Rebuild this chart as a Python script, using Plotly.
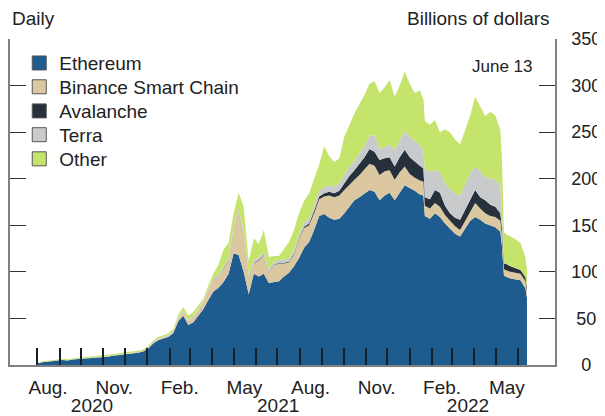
import plotly.graph_objects as go

dates = [
    "2020-08-01", "2020-08-08", "2020-08-15", "2020-08-22", "2020-08-29", "2020-09-05", "2020-09-12",
    "2020-09-19", "2020-09-26", "2020-10-03", "2020-10-10", "2020-10-17", "2020-10-24", "2020-10-31",
    "2020-11-07", "2020-11-14", "2020-11-21", "2020-11-28", "2020-12-05", "2020-12-12", "2020-12-19",
    "2020-12-26", "2021-01-02", "2021-01-09", "2021-01-16", "2021-01-23", "2021-01-30", "2021-02-06",
    "2021-02-13", "2021-02-20", "2021-02-27", "2021-03-06", "2021-03-13", "2021-03-20", "2021-03-27",
    "2021-04-03", "2021-04-10", "2021-04-17", "2021-04-24", "2021-05-01", "2021-05-08", "2021-05-15",
    "2021-05-22", "2021-05-29", "2021-06-05", "2021-06-12", "2021-06-19", "2021-06-26", "2021-07-03",
    "2021-07-10", "2021-07-17", "2021-07-24", "2021-07-31", "2021-08-07", "2021-08-14", "2021-08-21",
    "2021-08-28", "2021-09-04", "2021-09-11", "2021-09-18", "2021-09-25", "2021-10-02", "2021-10-09",
    "2021-10-16", "2021-10-23", "2021-10-30", "2021-11-06", "2021-11-13", "2021-11-20", "2021-11-27",
    "2021-12-04", "2021-12-11", "2021-12-18", "2021-12-25", "2022-01-01", "2022-01-08", "2022-01-15",
    "2022-01-20", "2022-01-22", "2022-01-29", "2022-02-05", "2022-02-12", "2022-02-19", "2022-02-26",
    "2022-03-05", "2022-03-12", "2022-03-19", "2022-03-26", "2022-04-02", "2022-04-09", "2022-04-16",
    "2022-04-23", "2022-04-30", "2022-05-07", "2022-05-09", "2022-05-12", "2022-05-14", "2022-05-21",
    "2022-05-28", "2022-06-04", "2022-06-11", "2022-06-13",
]

ethereum = [
    1.5, 3.0, 3.6, 4.5, 4.8, 5.4, 4.9, 5.8, 6.2, 6.5, 7.0, 7.4, 7.9, 8.4, 8.8, 9.8, 10.4, 11.4, 11.8,
    12.4, 13.2, 14.4, 17.5, 23, 26.5, 28.5, 30, 34, 47, 53, 43, 46, 53, 60, 70, 79, 83, 89, 98, 120,
    118, 100, 76, 98, 95, 98, 88, 89, 90, 95, 99, 106, 115, 126, 132, 145, 160, 162, 158, 156, 157,
    163, 170, 177, 180, 184, 188, 186, 177, 182, 185, 177, 185, 193, 190, 187, 183, 182, 160, 157,
    163, 159, 152, 147, 141, 138, 146, 155, 159, 156, 152, 150, 148, 143, 130, 96, 95, 93, 92, 91,
    82, 72,
]
binance = [
    0, 0, 0, 0, 0.1, 0.1, 0.1, 0.1, 0.2, 0.2, 0.2, 0.2, 0.3, 0.3, 0.3, 0.3, 0.3, 0.3, 0.3, 0.3, 0.4,
    0.4, 0.6, 0.8, 1.0, 1.2, 1.5, 2.0, 3.0, 4.0, 4.5, 5.0, 6.5, 7, 11, 12, 12, 15, 14, 27, 46, 40, 18,
    11, 17, 20, 11, 18, 19, 14, 11, 13, 20, 21, 18, 18, 18, 19, 24, 24, 25, 25, 24, 22, 24, 26, 28,
    28, 27, 26, 24, 22, 22, 20, 15, 14, 15, 15, 11, 11, 11, 11, 9, 8, 8, 7, 9, 10, 15, 12, 11, 10, 11,
    12, 11, 7, 7, 7, 7, 7, 8, 7,
]
avalanche = [
    0, 0, 0, 0, 0, 0, 0, 0, 0, 0, 0, 0, 0, 0, 0, 0, 0, 0, 0, 0, 0, 0, 0, 0, 0, 0, 0, 0, 0, 0, 0, 0, 0,
    0, 0.1, 0.2, 0.3, 0.3, 0.4, 0.5, 0.6, 0.6, 0.5, 0.6, 0.6, 0.6, 0.6, 0.6, 0.6, 0.7, 0.8, 1, 1, 1.5,
    2, 2.5, 3, 3.5, 4, 4.5, 5, 7, 9, 10, 12, 13, 16, 15, 16, 14, 14, 14, 16, 18, 18, 18, 16, 14, 9,
    10, 14, 15, 10, 8, 9, 11, 12, 13, 14, 12, 14, 12, 11, 8, 8, 6, 7, 6, 5, 4, 4, 4,
]
terra = [
    0.2, 0.2, 0.2, 0.2, 0.2, 0.2, 0.2, 0.2, 0.2, 0.2, 0.2, 0.2, 0.2, 0.2, 0.2, 0.3, 0.3, 0.3, 0.3,
    0.3, 0.3, 0.3, 0.5, 0.5, 0.6, 0.6, 0.7, 0.8, 1.0, 1.2, 1.2, 1.3, 1.4, 1.5, 1.6, 1.8, 2.0, 2.2,
    2.4, 2.8, 3, 3, 2.5, 2.8, 2.8, 3, 3, 3, 3, 3.2, 3.4, 3.6, 4, 4.5, 5, 5.5, 6, 6.5, 7, 7, 8, 9, 10,
    10, 11, 12, 14, 18, 12, 12, 14, 18, 18, 20, 22, 22, 22, 20, 30, 30, 21, 22, 24, 26, 26, 26, 28,
    28, 25, 27, 25, 28, 29, 30, 20, 1, 0.5, 0.3, 0.3, 0.2, 0.2, 0.2,
]
other = [
    0.8, 0.8, 0.8, 0.9, 0.9, 0.9, 0.9, 1.0, 1.0, 1.1, 1.1, 1.2, 1.2, 1.2, 1.3, 1.3, 1.3, 1.4, 1.5,
    1.5, 1.5, 1.5, 1.4, 1.7, 1.9, 1.7, 1.8, 1.7, 3.0, 3.8, 4.3, 4.7, 3.1, 2.5, 3.3, 5, 10.7, 17.5,
    16.2, 12.7, 17.4, 26.4, 14, 23.6, 14.6, 23.4, 13.4, 6.4, 4.4, 12.1, 17.8, 21.4, 23, 23, 27, 29,
    28, 44, 31, 26.5, 27, 41, 45, 51, 53, 55, 56, 58, 60, 64, 69, 57, 59, 64, 57, 51, 59, 54, 52, 50,
    54, 43, 58, 61, 58, 55, 57, 62, 75, 71, 65, 72, 69, 59, 56, 33, 31.5, 31.7, 30.7, 28.8, 20.8,
    18.8,
]

series_names = ["Ethereum", "Binance Smart Chain", "Avalanche", "Terra", "Other"]
series_values = [ethereum, binance, avalanche, terra, other]
series_colors = ["#1e5b8e", "#dcc8a0", "#27313c", "#c9cacc", "#c5e46c"]

month_ticks = [
    "2020-08-01", "2020-09-01", "2020-10-01", "2020-11-01", "2020-12-01", "2021-01-01",
    "2021-02-01", "2021-03-01", "2021-04-01", "2021-05-01", "2021-06-01", "2021-07-01",
    "2021-08-01", "2021-09-01", "2021-10-01", "2021-11-01", "2021-12-01", "2022-01-01",
    "2022-02-01", "2022-03-01", "2022-04-01", "2022-05-01", "2022-06-01",
]
month_label_pos = ["2020-08-16", "2020-11-16", "2021-02-15", "2021-05-16",
                   "2021-08-16", "2021-11-16", "2022-02-15", "2022-05-16"]
month_labels = ["Aug.", "Nov.", "Feb.", "May", "Aug.", "Nov.", "Feb.", "May"]
year_label_pos = ["2020-10-16", "2021-07-02", "2022-03-23"]
year_labels = ["2020", "2021", "2022"]
y_ticks = [0, 50, 100, 150, 200, 250, 300, 350]
y_tick_text = ["\u20070", "\u200850", "100", "150", "200", "250", "300", "350"]

x_range = ["2020-06-24", "2022-07-22"]
FONT = "Liberation Sans, Arial, sans-serif"
TXT = "#222222"
FS = 19

# legend rows (paper y of each entry's centre)
legend_rows = [0.926, 0.853, 0.779, 0.706, 0.632]
legend_ids = ["legend", "legend2", "legend3", "legend4", "legend5"]

fig = go.Figure()
for name, vals, col in zip(series_names, series_values, series_colors):
    fig.add_trace(go.Scatter(
        x=dates, y=vals, name=name, stackgroup="one", mode="lines",
        line=dict(width=0, color=col), fillcolor=col, showlegend=False, hoverinfo="skip",
    ))
for name, col, lid in zip(series_names, series_colors, legend_ids):
    fig.add_trace(go.Scatter(
        x=[None], y=[None], name=name, mode="markers", legend=lid, showlegend=True,
        marker=dict(symbol="square", size=14, color=col, line=dict(color="#555555", width=1)),
    ))
# carrier trace for the year axis
fig.add_trace(go.Scatter(x=x_range, y=[None, None], xaxis="x2", mode="lines",
                         showlegend=False, hoverinfo="skip"))

legends = {}
for lid, ly in zip(legend_ids, legend_rows):
    legends[lid] = dict(x=0.017, y=ly, xanchor="left", yanchor="middle",
                        bgcolor="rgba(0,0,0,0)", font=dict(size=FS, color=TXT))

fig.update_layout(
    width=597, height=408,
    margin=dict(l=2, r=50, t=31, b=51),
    paper_bgcolor="white", plot_bgcolor="white",
    font=dict(family=FONT, size=FS, color=TXT),
    showlegend=True,
    **legends,
    xaxis=dict(
        type="date", range=x_range, showgrid=False, zeroline=False, automargin=False,
        showline=True, linecolor="#808080", linewidth=1.5,
        tickmode="array", tickvals=month_label_pos, ticktext=month_labels, ticks="",
        tickangle=0, ticklabelstandoff=4,
        tickfont=dict(size=FS, color=TXT),
        minor=dict(tickmode="array", tickvals=month_ticks, ticks="inside", ticklen=17,
                   tickwidth=1.5, tickcolor="#14202c", showgrid=False),
    ),
    xaxis2=dict(
        type="date", overlaying="x", matches="x", anchor="y", side="bottom", automargin=False,
        showgrid=False, zeroline=False, showline=False,
        tickmode="array", tickvals=year_label_pos, ticktext=year_labels, ticks="",
        tickangle=0, ticklabelstandoff=27, tickfont=dict(size=FS, color=TXT),
    ),
    yaxis=dict(
        range=[0, 350], side="right", showgrid=False, zeroline=False, automargin=False,
        showline=True, linecolor="#808080", linewidth=1.5, mirror="ticks",
        tickmode="array", tickvals=y_ticks, ticktext=y_tick_text,
        ticks="inside", ticklen=16, tickwidth=1.2, tickcolor="#333333",
        ticklabelstandoff=11, tickfont=dict(size=18, color=TXT),
    ),
    annotations=[
        dict(text="Daily", xref="paper", yref="paper", x=0.0, y=1.064, xanchor="left",
             yanchor="middle", showarrow=False, font=dict(size=FS, color=TXT)),
        dict(text="Billions of dollars", xref="paper", yref="paper", x=0.995, y=1.064,
             xanchor="right", yanchor="middle", showarrow=False, font=dict(size=FS, color=TXT)),
        dict(text="June 13", xref="paper", yref="paper", x=0.963, y=0.917,
             xanchor="right", yanchor="middle", showarrow=False, font=dict(size=17, color=TXT)),
    ],
)

fig.write_html("out.html")
